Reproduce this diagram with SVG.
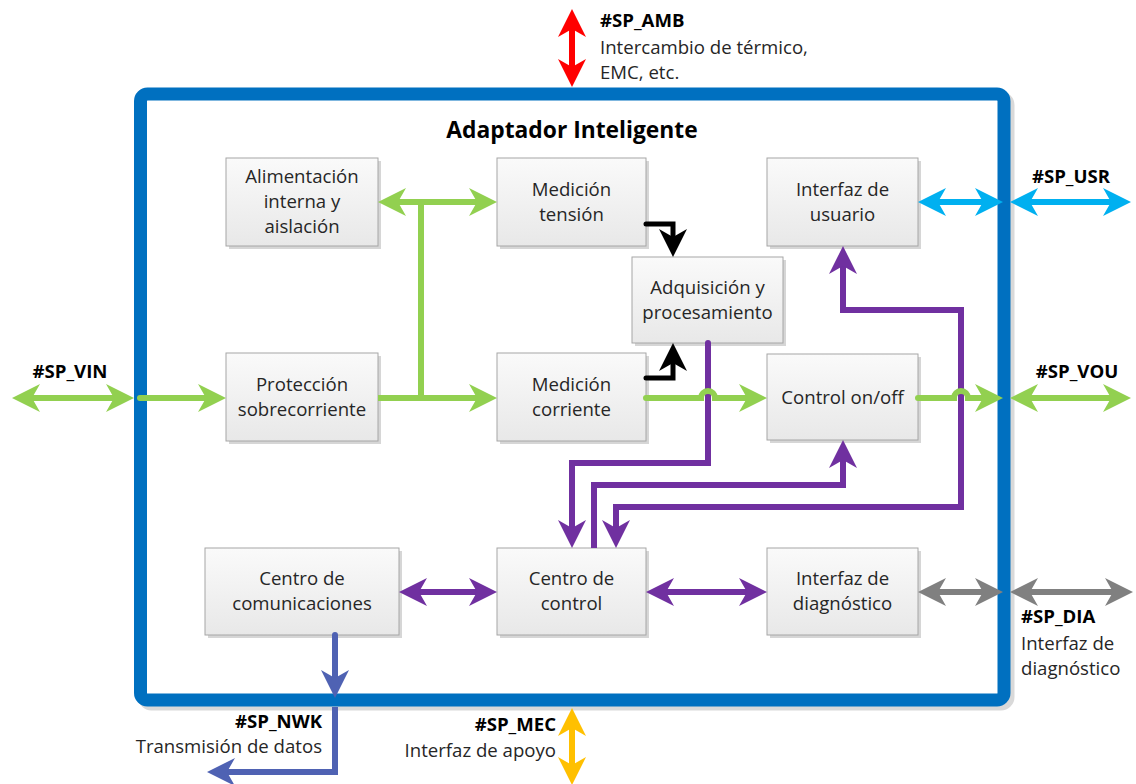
<svg xmlns="http://www.w3.org/2000/svg" width="1136" height="784" viewBox="0 0 1136 784">
<defs>
<linearGradient id="gb" x1="0" y1="0" x2="0" y2="1">
<stop offset="0" stop-color="#fafafa"/>
<stop offset="1" stop-color="#e8e8e8"/>
</linearGradient>
<marker id="aG" markerUnits="userSpaceOnUse" markerWidth="40" markerHeight="40" viewBox="-20 -20 40 40" orient="auto-start-reverse" overflow="visible"><path d="M12,0 L-16,-14 L-8,0 L-16,14 Z" fill="#92D050"/></marker>
<marker id="aC" markerUnits="userSpaceOnUse" markerWidth="40" markerHeight="40" viewBox="-20 -20 40 40" orient="auto-start-reverse" overflow="visible"><path d="M12,0 L-16,-14 L-8,0 L-16,14 Z" fill="#00B0F0"/></marker>
<marker id="aP" markerUnits="userSpaceOnUse" markerWidth="40" markerHeight="40" viewBox="-20 -20 40 40" orient="auto-start-reverse" overflow="visible"><path d="M12,0 L-16,-14 L-8,0 L-16,14 Z" fill="#7030A0"/></marker>
<marker id="aK" markerUnits="userSpaceOnUse" markerWidth="40" markerHeight="40" viewBox="-20 -20 40 40" orient="auto-start-reverse" overflow="visible"><path d="M12,0 L-16,-14 L-8,0 L-16,14 Z" fill="#000000"/></marker>
<marker id="aY" markerUnits="userSpaceOnUse" markerWidth="40" markerHeight="40" viewBox="-20 -20 40 40" orient="auto-start-reverse" overflow="visible"><path d="M12,0 L-16,-14 L-8,0 L-16,14 Z" fill="#808080"/></marker>
<marker id="aB" markerUnits="userSpaceOnUse" markerWidth="40" markerHeight="40" viewBox="-20 -20 40 40" orient="auto-start-reverse" overflow="visible"><path d="M12,0 L-16,-14 L-8,0 L-16,14 Z" fill="#4F62B3"/></marker>
<marker id="aR" markerUnits="userSpaceOnUse" markerWidth="40" markerHeight="40" viewBox="-20 -20 40 40" orient="auto-start-reverse" overflow="visible"><path d="M12,0 L-16,-14 L-8,0 L-16,14 Z" fill="#FF0000"/></marker>
<marker id="aO" markerUnits="userSpaceOnUse" markerWidth="40" markerHeight="40" viewBox="-20 -20 40 40" orient="auto-start-reverse" overflow="visible"><path d="M12,0 L-16,-14 L-8,0 L-16,14 Z" fill="#FFC000"/></marker>
</defs>
<style>
.box{fill:url(#gb);stroke:#a6a6a6;stroke-width:1}
.sh{fill:#d6d6d6}
.t{font-family:"Open Sans","Liberation Sans",sans-serif;font-size:18.6px;fill:#262626}
.m{text-anchor:middle}
.e{text-anchor:end}
.b{font-weight:bold;fill:#000}
.c{fill:none;stroke-linejoin:miter}
.g{stroke:#92D050;stroke-width:6}
.p{stroke:#7030A0;stroke-width:6}
.k{stroke:#000;stroke-width:5}
</style>
<rect width="1136" height="784" fill="#fff"/>
<g id="frame">
<rect x="144.5" y="98" width="863.5" height="606" rx="7" fill="none" stroke="#d9d9d9" stroke-width="13"/>
<rect x="140.5" y="94" width="863.5" height="606" rx="7" fill="#fff" stroke="#0070C0" stroke-width="13"/>
<text class="t m b" x="572" y="138" style="font-size:22.8px">Adaptador Inteligente</text>
</g>
<g id="n-alim">
<rect class="sh" x="229" y="161" width="152" height="88"/>
<rect class="box" x="226" y="158" width="152" height="88"/>
<text class="t m" x="302" y="183">Alimentación</text>
<text class="t m" x="302" y="208">interna y</text>
<text class="t m" x="302" y="233">aislación</text>
</g>
<g id="n-medt">
<rect class="sh" x="500" y="161" width="149" height="88"/>
<rect class="box" x="497" y="158" width="149" height="88"/>
<text class="t m" x="571.5" y="196">Medición</text>
<text class="t m" x="571.5" y="221">tensión</text>
</g>
<g id="n-usr">
<rect class="sh" x="770" y="161" width="151" height="88"/>
<rect class="box" x="767" y="158" width="151" height="88"/>
<text class="t m" x="842.5" y="196">Interfaz de</text>
<text class="t m" x="842.5" y="221">usuario</text>
</g>
<g id="n-adq">
<rect class="sh" x="635" y="260" width="151" height="86"/>
<rect class="box" x="632" y="257" width="151" height="86"/>
<text class="t m" x="707.5" y="294">Adquisición y</text>
<text class="t m" x="707.5" y="319">procesamiento</text>
</g>
<g id="n-prot">
<rect class="sh" x="229" y="356" width="152" height="88"/>
<rect class="box" x="226" y="353" width="152" height="88"/>
<text class="t m" x="302" y="391">Protección</text>
<text class="t m" x="302" y="416">sobrecorriente</text>
</g>
<g id="n-medc">
<rect class="sh" x="500" y="356" width="149" height="88"/>
<rect class="box" x="497" y="353" width="149" height="88"/>
<text class="t m" x="571.5" y="391">Medición</text>
<text class="t m" x="571.5" y="416">corriente</text>
</g>
<g id="n-ctrl">
<rect class="sh" x="770" y="357" width="151" height="86"/>
<rect class="box" x="767" y="354" width="151" height="86"/>
<text class="t m" x="842.5" y="404">Control on/off</text>
</g>
<g id="n-com">
<rect class="sh" x="208" y="551" width="194" height="87"/>
<rect class="box" x="205" y="548" width="194" height="87"/>
<text class="t m" x="302" y="585">Centro de</text>
<text class="t m" x="302" y="610">comunicaciones</text>
</g>
<g id="n-cc">
<rect class="sh" x="500" y="551" width="149" height="87"/>
<rect class="box" x="497" y="548" width="149" height="87"/>
<text class="t m" x="571.5" y="585">Centro de</text>
<text class="t m" x="571.5" y="610">control</text>
</g>
<g id="n-dia">
<rect class="sh" x="770" y="551" width="151" height="87"/>
<rect class="box" x="767" y="548" width="151" height="87"/>
<text class="t m" x="842.5" y="585">Interfaz de</text>
<text class="t m" x="842.5" y="610">diagnóstico</text>
</g>
<g id="connectors">
<path class="c p" d="M708,343 V463 H572 V536" stroke-linecap="round" marker-end="url(#aP)"/>
<path class="c p" d="M594,548 V485 H843 V452" marker-end="url(#aP)"/>
<path class="c p" d="M616,536 V507 H961 V310 H843 V258" marker-start="url(#aP)" marker-end="url(#aP)"/>
<path class="c p" d="M411,592 H485" marker-start="url(#aP)" marker-end="url(#aP)"/>
<path class="c p" d="M658,592 H755" marker-start="url(#aP)" marker-end="url(#aP)"/>
<path class="c g" d="M24,398 H122" marker-start="url(#aG)" marker-end="url(#aG)"/>
<path class="c g" d="M140,398 H214" stroke-linecap="round" marker-end="url(#aG)"/>
<path class="c g" d="M378,398 H485" marker-end="url(#aG)"/>
<path class="c g" d="M421,398 V202"/>
<path class="c g" d="M390,202 H485" marker-start="url(#aG)" marker-end="url(#aG)"/>
<path class="c g" d="M646,398 H701 A7,7 0 0 1 715,398 H755" stroke-linecap="round" marker-end="url(#aG)"/>
<path class="c g" d="M918,398 H954 A7,7 0 0 1 968,398 H991" stroke-linecap="round" marker-end="url(#aG)"/>
<path class="c g" d="M1022,398 H1119" marker-start="url(#aG)" marker-end="url(#aG)"/>
<path class="c k" d="M646,224 H673 V245" stroke-linecap="round" marker-end="url(#aK)"/>
<path class="c k" d="M646,378 H673 V355" stroke-linecap="round" marker-end="url(#aK)"/>
<path class="c" d="M930,202 H991" stroke="#00B0F0" stroke-width="6" marker-start="url(#aC)" marker-end="url(#aC)"/>
<path class="c" d="M1022,202 H1119" stroke="#00B0F0" stroke-width="6" marker-start="url(#aC)" marker-end="url(#aC)"/>
<path class="c" d="M930,592 H991" stroke="#808080" stroke-width="6" marker-start="url(#aY)" marker-end="url(#aY)"/>
<path class="c" d="M1022,592 H1121" stroke="#808080" stroke-width="6" marker-start="url(#aY)" marker-end="url(#aY)"/>
<path class="c" d="M335,635 V686" stroke="#4F62B3" stroke-width="6" stroke-linecap="round" marker-end="url(#aB)"/>
<path class="c" d="M335,707 V772 H219" stroke="#4F62B3" stroke-width="6" marker-end="url(#aB)"/>
<path class="c" d="M572,21 V75" stroke="#FF0000" stroke-width="6" marker-start="url(#aR)" marker-end="url(#aR)"/>
<path class="c" d="M572,720 V773" stroke="#FFC000" stroke-width="6" marker-start="url(#aO)" marker-end="url(#aO)"/>
</g>
<g id="labels">
<text class="t b" x="600" y="27">#SP_AMB</text>
<text class="t" x="600" y="54">Intercambio de térmico,</text>
<text class="t" x="600" y="79">EMC, etc.</text>
<text class="t m b" x="1071" y="183">#SP_USR</text>
<text class="t m b" x="70" y="378">#SP_VIN</text>
<text class="t m b" x="1077" y="378">#SP_VOU</text>
<text class="t b" x="1021" y="623">#SP_DIA</text>
<text class="t" x="1021" y="650">Interfaz de</text>
<text class="t" x="1021" y="675">diagnóstico</text>
<text class="t e b" x="322" y="728">#SP_NWK</text>
<text class="t e" x="322" y="753">Transmisión de datos</text>
<text class="t e b" x="556" y="731">#SP_MEC</text>
<text class="t e" x="556" y="757">Interfaz de apoyo</text>
</g>
</svg>
